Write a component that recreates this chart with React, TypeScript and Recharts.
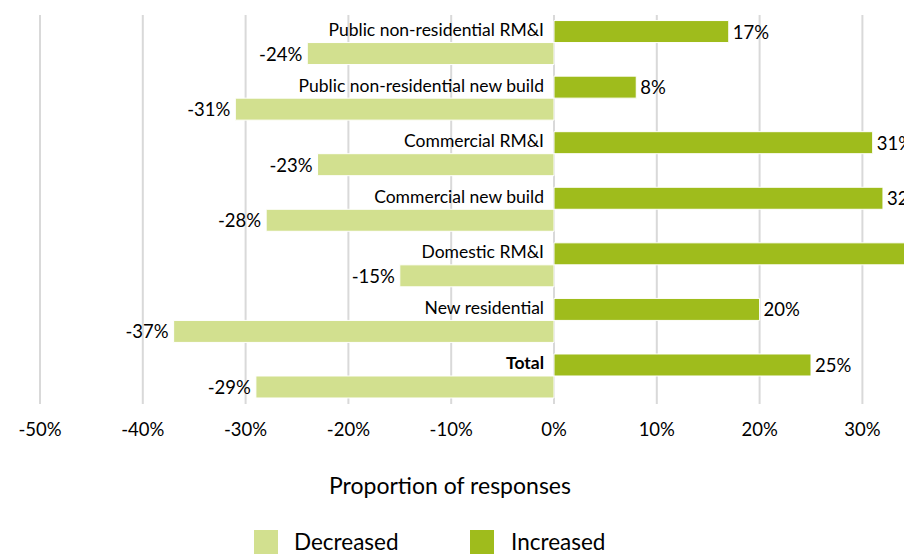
import { BarChart, Bar, XAxis, YAxis, CartesianGrid, LabelList } from 'recharts';

const categories = [
  'Public non-residential RM&I',
  'Public non-residential new build',
  'Commercial RM&I',
  'Commercial new build',
  'Domestic RM&I',
  'New residential',
  'Total',
];
const increased = [17, 8, 31, 32, 36, 20, 25];
const decreased = [-24, -31, -23, -28, -15, -37, -29];
const xTicks = [-50, -40, -30, -20, -10, 0, 10, 20, 30, 40, 50];

const INC = '#9fbc1c';
const DEC = '#d2e08f';
const FONT = 'Lato, "Noto Sans", sans-serif';

const data = categories.map((name, i) => ({ name, increased: increased[i], decreased: decreased[i] }));

function CategoryLabel(props: any) {
  const { x, y, height, index } = props;
  const name = categories[index];
  return (
    <text
      x={x - 10}
      y={y + height / 2 - 2}
      textAnchor="end"
      dominantBaseline="central"
      fontSize={17.5}
      fontWeight={name === 'Total' ? 700 : 400}
      fill="#000"
      fontFamily={FONT}
    >
      {name}
    </text>
  );
}

function ValueLabel(props: any) {
  const { x, y, width, height, value } = props;
  const right = value >= 0;
  const edge = right ? Math.max(x, x + width) : Math.min(x, x + width);
  return (
    <text
      x={right ? edge + 4 : edge - 5}
      y={y + height / 2}
      textAnchor={right ? 'start' : 'end'}
      dominantBaseline="central"
      fontSize={18.5}
      fill="#000"
      fontFamily={FONT}
    >
      {value}%
    </text>
  );
}

export default function App() {
  return (
    <div
      style={{
        position: 'fixed',
        left: 0,
        top: 0,
        width: 904,
        height: 554,
        overflow: 'hidden',
        background: '#fff',
        fontFamily: FONT,
      }}
    >
      <BarChart
        width={1100}
        height={554}
        data={data}
        layout="vertical"
        margin={{ top: 15, right: 32, left: 40, bottom: 110 }}
        barGap={0}
        barCategoryGap="10%"
      >
        <CartesianGrid horizontal={false} stroke="#d9d9d9" strokeWidth={2} />
        <XAxis
          type="number"
          domain={[-50, 50]}
          ticks={xTicks}
          axisLine={false}
          tickLine={false}
          tickSize={0}
          tickMargin={19}
          height={40}
          tick={{ fontSize: 18.5, fill: '#000', fontFamily: FONT }}
          tickFormatter={(v) => `${v}%`}
        />
        <YAxis type="category" dataKey="name" hide />
        <Bar dataKey="increased" fill={INC} stroke="#fff" strokeWidth={1} isAnimationActive={false}>
          <LabelList dataKey="increased" content={<CategoryLabel />} />
          <LabelList dataKey="increased" content={<ValueLabel />} />
        </Bar>
        <Bar dataKey="decreased" fill={DEC} stroke="#fff" strokeWidth={1} isAnimationActive={false}>
          <LabelList dataKey="decreased" content={<ValueLabel />} />
        </Bar>
      </BarChart>
      <div
        style={{
          position: 'absolute',
          left: 250,
          width: 400,
          top: 471,
          textAlign: 'center',
          fontSize: 23,
          color: '#000',
        }}
      >
        Proportion of responses
      </div>
      <div style={{ position: 'absolute', left: 254, top: 530, width: 24, height: 24, background: DEC }} />
      <div style={{ position: 'absolute', left: 294, top: 528, fontSize: 22.5, color: '#000' }}>Decreased</div>
      <div style={{ position: 'absolute', left: 470, top: 530, width: 24, height: 24, background: INC }} />
      <div style={{ position: 'absolute', left: 511, top: 528, fontSize: 22.5, color: '#000' }}>Increased</div>
    </div>
  );
}
